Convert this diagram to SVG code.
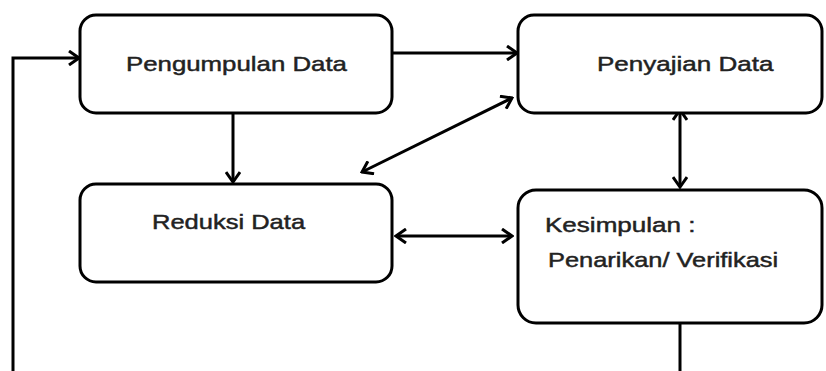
<svg xmlns="http://www.w3.org/2000/svg" width="826" height="371" viewBox="0 0 826 371">
<style>
.box{fill:#fff;stroke:#000;stroke-width:3}
.lbl{font-family:"Liberation Sans",Arial,sans-serif;font-size:20.5px;fill:#222;stroke:#222;stroke-width:0.45}
.con{fill:none;stroke:#000;stroke-width:3}
</style>
<defs>
<marker id="ah" markerUnits="userSpaceOnUse" markerWidth="14" markerHeight="16" refX="12" refY="8" orient="auto-start-reverse">
<path d="M2,1 L12,8 L2,15" fill="none" stroke="#000" stroke-width="3"/>
</marker>
</defs>
<rect width="826" height="371" fill="#fff"/>
<g id="connectors">
<path class="con" d="M680,323 L680,371"/>
<path class="con" d="M13,371 L13,58 L79,58" marker-end="url(#ah)"/>
<path class="con" d="M392,53 L517,53" marker-end="url(#ah)"/>
<path class="con" d="M233,113 L233,182" marker-end="url(#ah)"/>
<path class="con" d="M362,172 L512,98" marker-start="url(#ah)" marker-end="url(#ah)"/>
<path class="con" d="M680,110 L680,187" marker-start="url(#ah)" marker-end="url(#ah)"/>
<path class="con" d="M396,236 L512,236" marker-start="url(#ah)" marker-end="url(#ah)"/>
</g>
<g id="pengumpulan">
<rect class="box" x="80" y="15" width="312" height="98" rx="16"/>
<text class="lbl" transform="translate(126,71) scale(1.26,1)">Pengumpulan Data</text>
</g>
<g id="penyajian">
<rect class="box" x="518" y="15" width="304" height="98" rx="16"/>
<text class="lbl" transform="translate(597,71) scale(1.27,1)">Penyajian Data</text>
</g>
<g id="reduksi">
<rect class="box" x="80" y="184" width="312" height="98" rx="16"/>
<text class="lbl" transform="translate(152,229) scale(1.245,1)">Reduksi Data</text>
</g>
<g id="kesimpulan">
<rect class="box" x="518" y="190" width="304" height="133" rx="18"/>
<text class="lbl" transform="translate(545,232) scale(1.27,1)">Kesimpulan :</text>
<text class="lbl" transform="translate(548,267) scale(1.24,1)">Penarikan/ Verifikasi</text>
</g>
</svg>
